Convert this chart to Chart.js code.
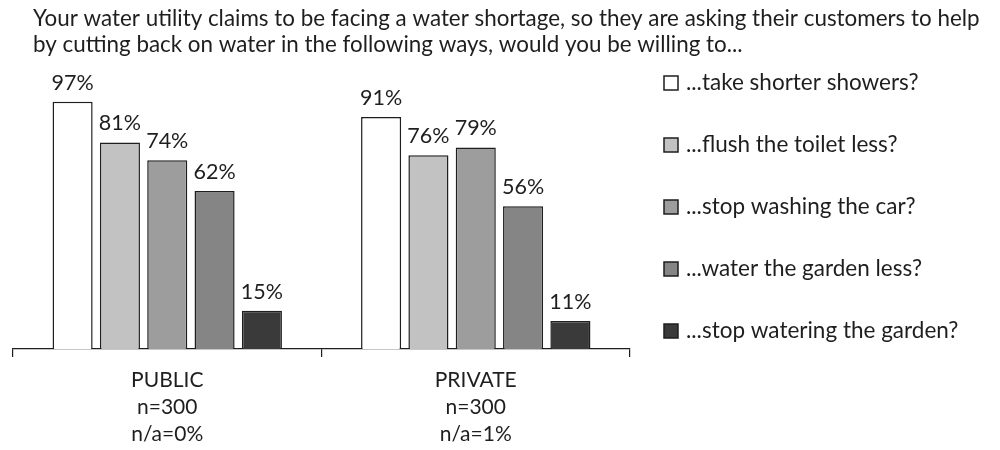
<!DOCTYPE html>
<html>
<head>
<meta charset="utf-8">
<script src="https://cdn.jsdelivr.net/npm/chart.js@4.4.1/dist/chart.umd.min.js"></script>
<style>
  html, body { margin: 0; padding: 0; background: #ffffff; }
  #wrap { width: 1000px; height: 450px; position: relative; }
</style>
</head>
<body>
<div id="wrap"><canvas id="chart"></canvas></div>
<script>
const TITLE_LINES = [
  'Your water utility claims to be facing a water shortage, so they are asking their customers to help',
  'by cutting back on water in the following ways, would you be willing to...'
];
const GROUPS = [
  ['PUBLIC', 'n=300', 'n/a=0%'],
  ['PRIVATE', 'n=300', 'n/a=1%']
];
const QUESTIONS = [
  '...take shorter showers?',
  '...flush the toilet less?',
  '...stop washing the car?',
  '...water the garden less?',
  '...stop watering the garden?'
];
const SHOWERS = [97, 91];
const TOILET = [81, 76];
const CAR = [74, 79];
const GARDEN_LESS = [62, 56];
const GARDEN_STOP = [15, 11];
const FILLS = ['#ffffff', '#c2c2c2', '#9d9d9d', '#858585', '#3a3a3a'];

const FONT = 'Lato, "Open Sans", sans-serif';
const INK = '#1e1e1e';

const series = [SHOWERS, TOILET, CAR, GARDEN_LESS, GARDEN_STOP];

// title, value labels and the side legend
const decorations = {
  id: 'decorations',
  afterDatasetsDraw(chart) {
    const ctx = chart.ctx;
    ctx.save();
    ctx.fillStyle = INK;

    ctx.font = '22.4px ' + FONT;
    ctx.textAlign = 'left';
    ctx.textBaseline = 'middle';
    TITLE_LINES.forEach((line, i) => ctx.fillText(line, 33, 19 + i * 26));

    ctx.font = '21.5px ' + FONT;
    ctx.textAlign = 'center';
    chart.data.datasets.forEach((ds, i) => {
      chart.getDatasetMeta(i).data.forEach((bar, j) => {
        ctx.fillText(ds.data[j] + '%', bar.x, bar.y - 19);
      });
    });

    ctx.font = '22.5px ' + FONT;
    ctx.textAlign = 'left';
    chart.data.datasets.forEach((ds, i) => {
      const y = 83 + i * 62;
      ctx.fillStyle = ds.backgroundColor;
      ctx.fillRect(664, y - 7, 14, 14);
      ctx.strokeStyle = INK;
      ctx.lineWidth = 1.5;
      ctx.strokeRect(664, y - 7, 14, 14);
      ctx.fillStyle = INK;
      ctx.fillText(ds.label, 686, y);
    });
    ctx.restore();
  }
};

new Chart(document.getElementById('chart'), {
  type: 'bar',
  data: {
    labels: GROUPS,
    datasets: series.map((values, i) => ({
      label: QUESTIONS[i],
      data: values,
      backgroundColor: FILLS[i],
      borderColor: INK,
      borderWidth: 1.5,
      borderSkipped: 'bottom',
      categoryPercentage: 0.767,
      barPercentage: 0.847
    }))
  },
  options: {
    responsive: true,
    maintainAspectRatio: false,
    animation: false,
    layout: {
      padding: { top: 94, left: 13, right: 370, bottom: 0 }
    },
    plugins: {
      legend: { display: false },
      tooltip: { enabled: false }
    },
    scales: {
      y: {
        display: false,
        min: 0,
        max: 100
      },
      x: {
        afterFit: (scale) => { scale.height = 101; },
        ticks: {
          color: INK,
          padding: 10,
          font: { family: FONT, size: 21, lineHeight: 1.29 }
        },
        grid: {
          drawOnChartArea: false,
          drawTicks: true,
          tickLength: 8,
          color: INK,
          lineWidth: 1.2
        },
        border: {
          display: true,
          color: INK,
          width: 1.2
        }
      }
    }
  },
  plugins: [decorations]
});
</script>
</body>
</html>
